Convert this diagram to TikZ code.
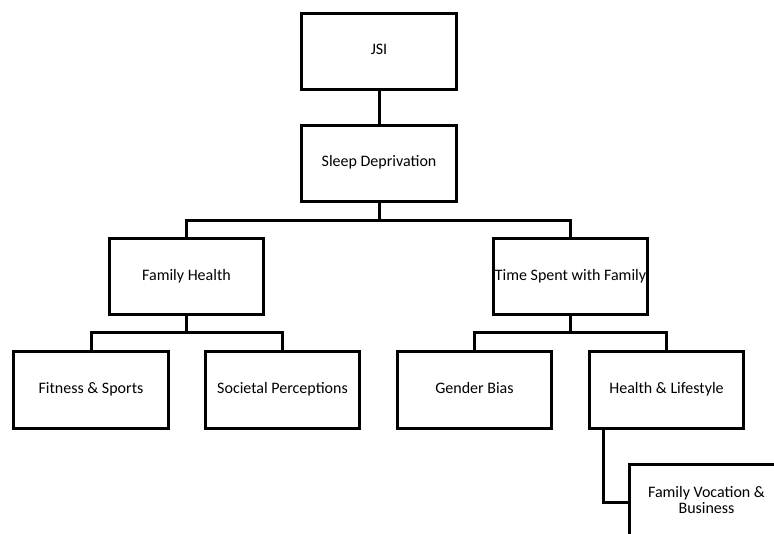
\documentclass[tikz,border=0pt]{standalone}
\usepackage{fontspec}
\setmainfont{Carlito}
\usepackage{tikz}
\usetikzlibrary{positioning}

\begin{document}
\begin{tikzpicture}[x=0.75pt, y=-0.75pt,
  every node/.style={font=\fontsize{12pt}{12pt}\selectfont, align=center},
  box/.style={draw, line width=2.25pt, fill=white, minimum width=116pt, minimum height=57pt, inner sep=1pt,
    execute at begin node=\strut},
  link/.style={line width=2.25pt}]
\clip (0,0) rectangle (774,534);
\node[box] (jsi) at (379,51.5) {JSI};
\node[box] (sd) at (379,163.5) {Sleep Deprivation};
\node[box] (fh) at (186.5,277) {Family Health};
\node[box] (ts) at (570.5,277) {Time Spent with Family};
\node[box] (fs) at (91,390) {Fitness \& Sports};
\node[box] (sp) at (282.5,390) {Societal Perceptions};
\node[box] (gb) at (474.5,390) {Gender Bias};
\node[box] (hl) at (666.5,390) {Health \& Lifestyle};
\node[box] (fv) at (706.5,502) {Family Vocation \&\\Business\strut};
\draw[link] (jsi) -- (sd);
\draw[link] (sd.south) -- ++(0,18) -| (fh.north);
\draw[link] (sd.south) -- ++(0,18) -| (ts.north);
\draw[link] (fh.south) -- ++(0,16) -| (fs.north);
\draw[link] (fh.south) -- ++(0,16) -| (sp.north);
\draw[link] (ts.south) -- ++(0,16) -| (gb.north);
\draw[link] (ts.south) -- ++(0,16) -| (hl.north);
\draw[link] ([xshift=12pt]hl.south west) |- (fv.west);
\end{tikzpicture}
\end{document}
